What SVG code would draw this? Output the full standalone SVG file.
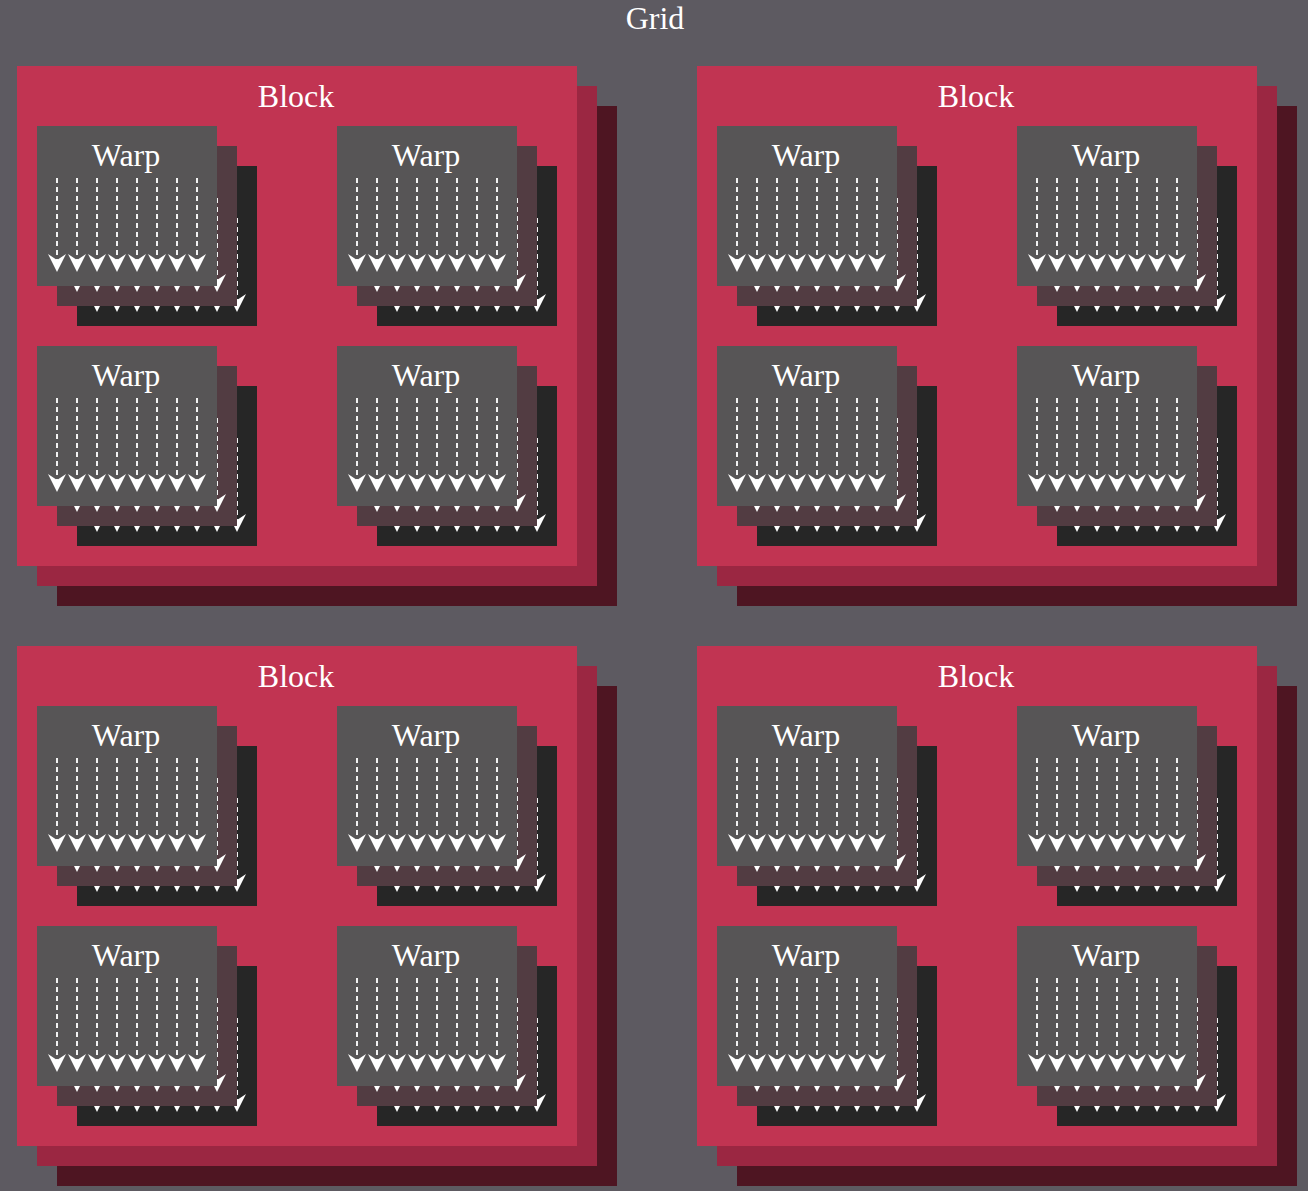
<svg xmlns="http://www.w3.org/2000/svg" width="1308" height="1191" viewBox="0 0 1308 1191">
<style>
text{font-family:"Liberation Serif","Times New Roman",serif;font-size:32px;fill:#ffffff;text-anchor:middle}
.grid{fill:#5d5a61}
.b1{fill:#c13452}.b2{fill:#9b2742}.b3{fill:#4e1522}
.w1{fill:#575556}.w2{fill:#523c42}.w3{fill:#262626}
.th{stroke:#f2f2f2;stroke-width:2;stroke-dasharray:5 4;fill:none}
.ah{fill:#ffffff}
</style>
<defs>
<g id="arrows">
<line class="th" x1="20" y1="52" x2="20" y2="136"/><path class="ah" d="M20 146 L11 128 L20 134 L29 128 Z"/>
<line class="th" x1="40" y1="52" x2="40" y2="136"/><path class="ah" d="M40 146 L31 128 L40 134 L49 128 Z"/>
<line class="th" x1="60" y1="52" x2="60" y2="136"/><path class="ah" d="M60 146 L51 128 L60 134 L69 128 Z"/>
<line class="th" x1="80" y1="52" x2="80" y2="136"/><path class="ah" d="M80 146 L71 128 L80 134 L89 128 Z"/>
<line class="th" x1="100" y1="52" x2="100" y2="136"/><path class="ah" d="M100 146 L91 128 L100 134 L109 128 Z"/>
<line class="th" x1="120" y1="52" x2="120" y2="136"/><path class="ah" d="M120 146 L111 128 L120 134 L129 128 Z"/>
<line class="th" x1="140" y1="52" x2="140" y2="136"/><path class="ah" d="M140 146 L131 128 L140 134 L149 128 Z"/>
<line class="th" x1="160" y1="52" x2="160" y2="136"/><path class="ah" d="M160 146 L151 128 L160 134 L169 128 Z"/>
</g>
<g id="warpstack">
<rect class="w3" x="40" y="40" width="180" height="160"/>
<use href="#arrows" x="40" y="40"/>
<rect class="w2" x="20" y="20" width="180" height="160"/>
<use href="#arrows" x="20" y="20"/>
<rect class="w1" x="0" y="0" width="180" height="160"/>
<use href="#arrows"/>
</g>
<g id="blockstack">
<rect class="b3" x="40" y="40" width="560" height="500"/>
<rect class="b2" x="20" y="20" width="560" height="500"/>
<rect class="b1" x="0" y="0" width="560" height="500"/>
</g>
</defs>

<g id="grid">
<rect class="grid" x="0" y="0" width="1308" height="1191"/>
<text x="655" y="29">Grid</text>
</g>

<g id="block-1" transform="translate(17,66)">
<use href="#blockstack"/>
<text x="279" y="41">Block</text>
<g id="warp-1-1" transform="translate(20,60)"><use href="#warpstack"/><text x="89" y="40">Warp</text></g>
<g id="warp-1-2" transform="translate(320,60)"><use href="#warpstack"/><text x="89" y="40">Warp</text></g>
<g id="warp-1-3" transform="translate(20,280)"><use href="#warpstack"/><text x="89" y="40">Warp</text></g>
<g id="warp-1-4" transform="translate(320,280)"><use href="#warpstack"/><text x="89" y="40">Warp</text></g>
</g>

<g id="block-2" transform="translate(697,66)">
<use href="#blockstack"/>
<text x="279" y="41">Block</text>
<g id="warp-2-1" transform="translate(20,60)"><use href="#warpstack"/><text x="89" y="40">Warp</text></g>
<g id="warp-2-2" transform="translate(320,60)"><use href="#warpstack"/><text x="89" y="40">Warp</text></g>
<g id="warp-2-3" transform="translate(20,280)"><use href="#warpstack"/><text x="89" y="40">Warp</text></g>
<g id="warp-2-4" transform="translate(320,280)"><use href="#warpstack"/><text x="89" y="40">Warp</text></g>
</g>

<g id="block-3" transform="translate(17,646)">
<use href="#blockstack"/>
<text x="279" y="41">Block</text>
<g id="warp-3-1" transform="translate(20,60)"><use href="#warpstack"/><text x="89" y="40">Warp</text></g>
<g id="warp-3-2" transform="translate(320,60)"><use href="#warpstack"/><text x="89" y="40">Warp</text></g>
<g id="warp-3-3" transform="translate(20,280)"><use href="#warpstack"/><text x="89" y="40">Warp</text></g>
<g id="warp-3-4" transform="translate(320,280)"><use href="#warpstack"/><text x="89" y="40">Warp</text></g>
</g>

<g id="block-4" transform="translate(697,646)">
<use href="#blockstack"/>
<text x="279" y="41">Block</text>
<g id="warp-4-1" transform="translate(20,60)"><use href="#warpstack"/><text x="89" y="40">Warp</text></g>
<g id="warp-4-2" transform="translate(320,60)"><use href="#warpstack"/><text x="89" y="40">Warp</text></g>
<g id="warp-4-3" transform="translate(20,280)"><use href="#warpstack"/><text x="89" y="40">Warp</text></g>
<g id="warp-4-4" transform="translate(320,280)"><use href="#warpstack"/><text x="89" y="40">Warp</text></g>
</g>
</svg>
